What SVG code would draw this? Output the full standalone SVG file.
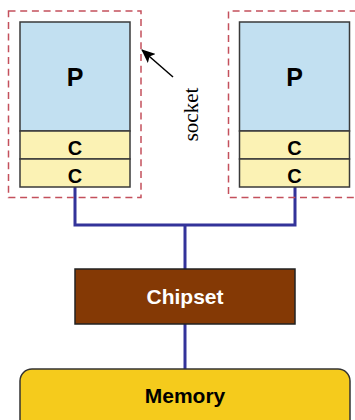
<svg xmlns="http://www.w3.org/2000/svg" width="355" height="420" viewBox="0 0 355 420">
  <defs>
    <style>
      .socket { fill: none; stroke: #c4505c; stroke-width: 1.5; stroke-dasharray: 7 4.7; }
      .proc { fill: #c2e0f1; stroke: #3a3a3a; stroke-width: 1.5; }
      .cache { fill: #fbf2b4; stroke: #3a3a3a; stroke-width: 1.5; }
      .bus { fill: none; stroke: #33339a; stroke-width: 3; }
      .lbl { font-family: "Liberation Sans", Arial, sans-serif; font-weight: bold; text-anchor: middle; fill: #000; }
      .p { font-size: 25px; }
      .c { font-size: 20px; }
      .big { font-size: 21px; }
    </style>
    <marker id="arrow" viewBox="0 0 14 12" refX="13" refY="6" markerWidth="14" markerHeight="12" markerUnits="userSpaceOnUse" orient="auto">
      <path d="M0,0 L14,6 L0,12 L3,6 z" fill="#000"/>
    </marker>
  </defs>
  <rect width="355" height="420" fill="#fff"/>

  <g id="connectors">
    <polyline class="bus" points="75,187 75,225 295,225 295,187"/>
    <line class="bus" x1="185" y1="225" x2="185" y2="269"/>
    <line class="bus" x1="185" y1="324" x2="185" y2="369"/>
    <line x1="173" y1="77" x2="142" y2="50" stroke="#000" stroke-width="1.5" marker-end="url(#arrow)"/>
  </g>

  <g id="socket-left">
    <rect class="socket" x="8.5" y="11" width="132.5" height="186.5"/>
  </g>
  <g id="proc-left">
    <rect class="proc" x="20" y="22" width="110" height="109"/>
    <text class="lbl p" x="75" y="86">P</text>
  </g>
  <g id="cache-left-1">
    <rect class="cache" x="20" y="131" width="110" height="28"/>
    <text class="lbl c" x="75" y="155">C</text>
  </g>
  <g id="cache-left-2">
    <rect class="cache" x="20" y="159" width="110" height="28"/>
    <text class="lbl c" x="75" y="183">C</text>
  </g>

  <g id="socket-right">
    <path class="socket" d="M380,11 H228.5 V197.5 H380"/>
  </g>
  <g id="proc-right">
    <rect class="proc" x="239.5" y="22" width="110" height="109"/>
    <text class="lbl p" x="294.5" y="86">P</text>
  </g>
  <g id="cache-right-1">
    <rect class="cache" x="239.5" y="131" width="110" height="28"/>
    <text class="lbl c" x="294.5" y="155">C</text>
  </g>
  <g id="cache-right-2">
    <rect class="cache" x="239.5" y="159" width="110" height="28"/>
    <text class="lbl c" x="294.5" y="183">C</text>
  </g>

  <g id="socket-label">
    <text x="0" y="0" transform="translate(197.5,114.5) rotate(-90)" font-family="Liberation Serif, 'Times New Roman', serif" font-size="21" text-anchor="middle" fill="#000">socket</text>
  </g>

  <g id="chipset">
    <rect x="75" y="269" width="220" height="55" fill="#843905" stroke="#222" stroke-width="1.5"/>
    <text class="lbl big" x="185" y="304" style="fill:#fff">Chipset</text>
  </g>

  <g id="memory">
    <rect x="20" y="369" width="330" height="70" rx="12" ry="12" fill="#f5cb1c" stroke="#333" stroke-width="1.5"/>
    <text class="lbl big" x="185" y="403">Memory</text>
  </g>
</svg>
